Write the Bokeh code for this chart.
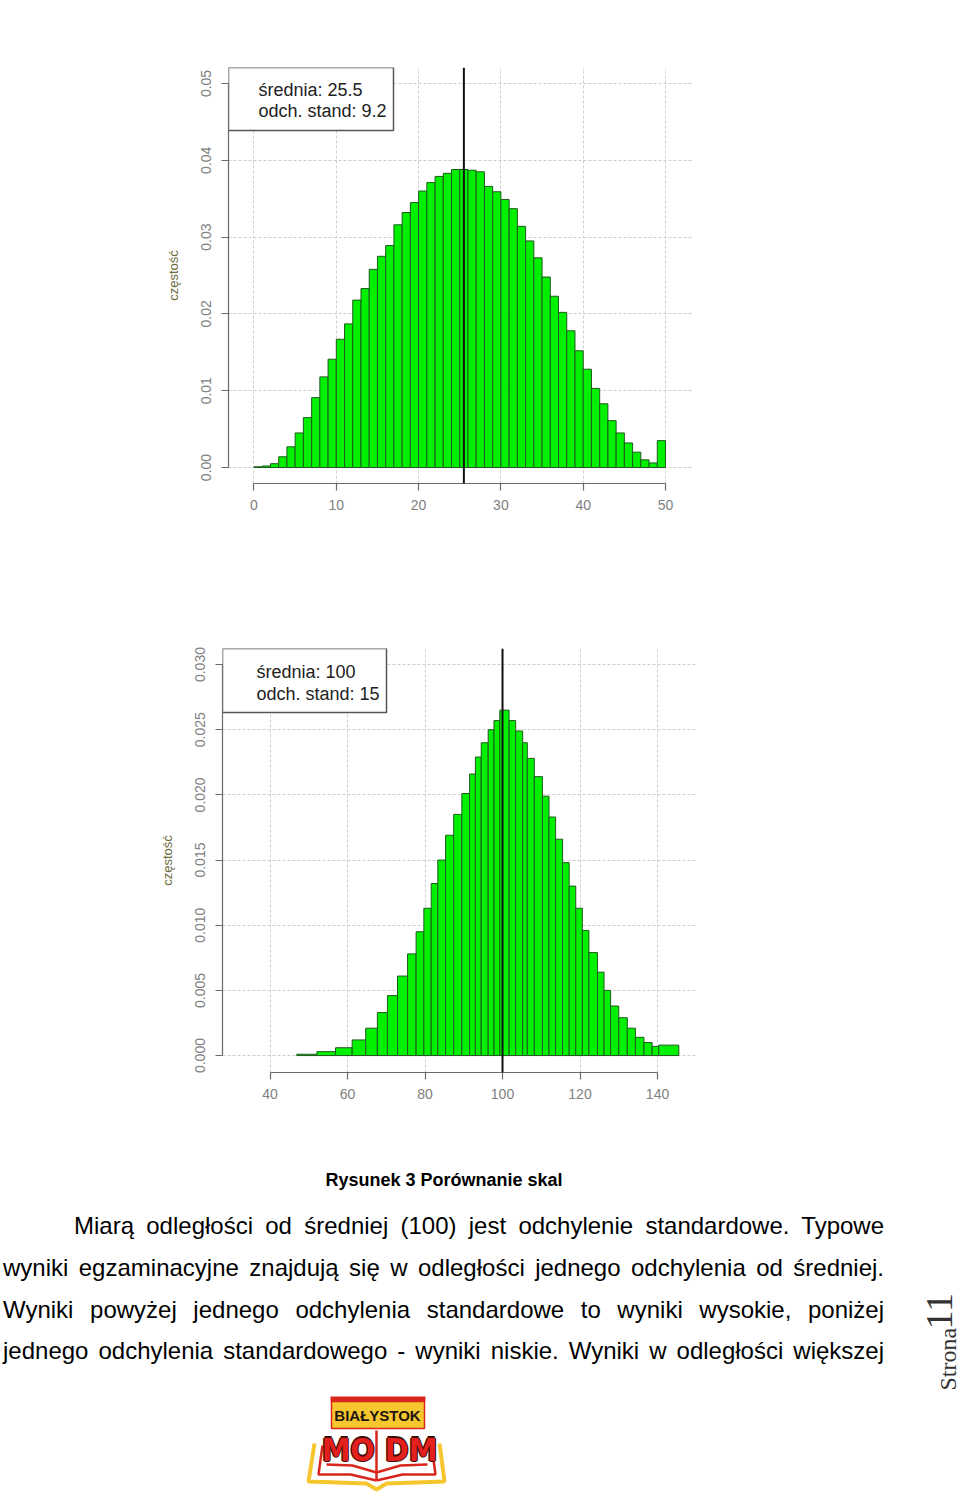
import math
from bokeh.plotting import figure
from bokeh.models import Range1d, FixedTicker, NumeralTickFormatter, Span, BoxAnnotation, Label, Div
from bokeh.layouts import column, row
from bokeh.embed import file_html
from bokeh.resources import INLINE
from bokeh.core.properties import value

# ---------------- data ----------------
title_lines = ["Egzamin gimnazjalny  2011", "wyniki części humanistycznej"]
y_label = "częstość"

# chart 1: raw scores (0-50 points)
raw_edges = [0, 1, 2, 3, 4, 5, 6, 7, 8, 9, 10, 11, 12, 13, 14, 15, 16, 17, 18, 19, 20,
             21, 22, 23, 24, 25, 26, 27, 28, 29, 30, 31, 32, 33, 34, 35, 36, 37, 38, 39, 40,
             41, 42, 43, 44, 45, 46, 47, 48, 49, 50]
raw_density = [0.0001, 0.0002, 0.0005, 0.0014, 0.0027, 0.0045, 0.0065, 0.0091, 0.0118, 0.0141,
               0.0167, 0.0187, 0.0218, 0.0233, 0.0258, 0.0275, 0.0289, 0.0316, 0.0332, 0.0345,
               0.0360, 0.0371, 0.0379, 0.0383, 0.0388, 0.0388, 0.0387, 0.0385, 0.0366, 0.0359,
               0.0349, 0.0337, 0.0314, 0.0295, 0.0273, 0.0248, 0.0223, 0.0202, 0.0178, 0.0152,
               0.0128, 0.0103, 0.0083, 0.0061, 0.0045, 0.0032, 0.0020, 0.0010, 0.0006, 0.0035]
raw_mean = 25.5
raw_x_ticks = [0, 10, 20, 30, 40, 50]
raw_y_ticks = [0.00, 0.01, 0.02, 0.03, 0.04, 0.05]
raw_legend = ["średnia: 25.5", "odch. stand: 9.2"]

# chart 2: standardised scale (mean 100, sd 15)
std_edges = [46.9, 52.1, 56.9, 61.2, 64.7, 67.7, 70.3, 72.9, 75.5, 77.7, 79.7, 81.6, 83.3,
             85.3, 87.4, 89.5, 91.5, 93.0, 94.5, 96.3, 97.8, 99.3, 101.7, 103.4, 105.2, 106.4,
             108.2, 110.3, 112.0, 113.7, 115.5, 117.2, 118.9, 120.6, 122.3, 124.5, 126.2,
             127.9, 130.0, 132.2, 134.3, 136.5, 138.6, 140.3, 145.5]
std_density = [0.0001, 0.0003, 0.0006, 0.0012, 0.0021, 0.0033, 0.0046, 0.0061, 0.0078, 0.0095,
               0.0113, 0.0132, 0.0150, 0.0169, 0.0185, 0.0201, 0.0216, 0.0229, 0.0240, 0.0250,
               0.0257, 0.0265, 0.0257, 0.0249, 0.0240, 0.0228, 0.0214, 0.0199, 0.0183, 0.0166,
               0.0148, 0.0130, 0.0113, 0.0096, 0.0079, 0.0064, 0.0050, 0.0038, 0.0029, 0.0021,
               0.0014, 0.0010, 0.0007, 0.0008]
std_mean = 100
std_x_ticks = [40, 60, 80, 100, 120, 140]
std_y_ticks = [0.000, 0.005, 0.010, 0.015, 0.020, 0.025, 0.030]
std_legend = ["średnia: 100", "odch. stand: 15"]

caption = "Rysunek 3 Porównanie skal"
paragraph_lines = [
    "Miarą odległości od średniej (100) jest odchylenie standardowe. Typowe",
    "wyniki egzaminacyjne znajdują się w odległości jednego odchylenia od średniej.",
    "Wyniki powyżej jednego odchylenia standardowe to wyniki wysokie, poniżej",
    "jednego odchylenia standardowego - wyniki niskie. Wyniki w odległości większej",
]
page_word = "Strona"
page_number = "11"
logo_top = "BIAŁYSTOK"
logo_main = "MO DM"

SANS = "Liberation Sans"


def no_align(p):
    try:
        p.frame_align = False
    except Exception:
        pass


def make_hist(H, frame, xr, yr, edges, dens, mean, xt, yt, yfmt, legend, title_y, title_x,
              legend_box, legend_text_x, legend_text_y):
    fl, fr, ft, fb = frame
    p = figure(width=960, height=H, x_range=Range1d(*xr), y_range=Range1d(*yr),
               output_backend="svg", toolbar_location=None,
               min_border_left=fl, min_border_right=960 - fr,
               min_border_top=ft, min_border_bottom=H - fb)
    no_align(p)
    p.outline_line_color = None
    p.background_fill_color = "white"
    p.border_fill_color = "white"

    def px2x(px):
        return xr[0] + (px - fl) / (fr - fl) * (xr[1] - xr[0])

    def px2y(py):
        return yr[1] - (py - ft) / (fb - ft) * (yr[1] - yr[0])

    for ax in (p.xaxis[0], p.yaxis[0]):
        ax.axis_line_color = "#6a6a6a"
        ax.axis_line_width = 1.2
        ax.major_tick_line_color = "#6a6a6a"
        ax.major_tick_line_width = 1.2
        ax.major_tick_out = 7
        ax.major_tick_in = 0
        ax.minor_tick_line_color = None
        ax.major_label_text_font = SANS
        ax.major_label_text_font_size = "14px"
        ax.major_label_text_color = "#808080"
    p.xaxis[0].ticker = FixedTicker(ticks=xt)
    p.xaxis[0].bounds = (xt[0], xt[-1])
    p.xaxis[0].formatter = NumeralTickFormatter(format="0")
    p.xaxis[0].major_label_standoff = 9
    p.yaxis[0].ticker = FixedTicker(ticks=yt)
    p.yaxis[0].bounds = (yt[0], yt[-1])
    p.yaxis[0].formatter = NumeralTickFormatter(format=yfmt)
    p.yaxis[0].major_label_orientation = "vertical"
    p.yaxis[0].major_label_standoff = 10
    p.yaxis[0].axis_label = y_label
    p.yaxis[0].axis_label_text_font = SANS
    p.yaxis[0].axis_label_text_font_size = "13px"
    p.yaxis[0].axis_label_text_font_style = "normal"
    p.yaxis[0].axis_label_text_color = "#6b6b40"
    p.yaxis[0].axis_label_standoff = 18

    for g in (p.xgrid[0], p.ygrid[0]):
        g.grid_line_color = "#cfcfcf"
        g.grid_line_dash = "3 2"
        g.grid_line_width = 1

    p.quad(left=edges[:-1], right=edges[1:], bottom=0, top=dens,
           fill_color="#00f000", line_color="#1e5a1e", line_width=1)

    p.add_layout(Span(location=mean, dimension="height", line_color="#111111", line_width=2))

    bl, br, bt, bb = legend_box
    p.add_layout(BoxAnnotation(left=px2x(bl), right=px2x(br), top=px2y(bt), bottom=px2y(bb),
                               fill_color="white", fill_alpha=1.0, line_color="#555555",
                               line_width=1.5, line_alpha=1.0))
    for txt, ty in zip(legend, legend_text_y):
        p.add_layout(Label(x=px2x(legend_text_x), y=px2y(ty), text=txt, text_align="left",
                           text_baseline="middle", text_font=SANS, text_font_size="18px",
                           text_color="#222222"))
    for txt, ty in zip(title_lines, title_y):
        p.add_layout(Label(x=px2x(title_x), y=px2y(ty), text=txt, text_align="center",
                           text_baseline="middle", text_font=SANS, text_font_size="16px",
                           text_font_style="bold", text_color="#333333"))
    return p


# chart 1 (page y 0..565)
p1 = make_hist(565, (228, 693, 67, 483), (-3.098, 53.40), (-0.00208, 0.05208),
               raw_edges, raw_density, raw_mean, raw_x_ticks, raw_y_ticks, "0.00", raw_legend,
               title_y=(26, 46), title_x=457, legend_box=(228, 393, 67, 130),
               legend_text_x=258, legend_text_y=(89, 110))

# chart 2 (page y 565..1165)
p2 = make_hist(600, (222, 695, 83, 507), (27.74, 149.8), (-0.0013, 0.03123),
               std_edges, std_density, std_mean, std_x_ticks, std_y_ticks, "0.000", std_legend,
               title_y=(42, 62), title_x=459, legend_box=(222, 386, 83, 147),
               legend_text_x=256, legend_text_y=(106, 128))

# text block (page y 1165..1395)
DIV_W = 895
line_tops = [47, 89, 131, 172]
line_lefts = [74, 3, 3, 3]
line_widths = [810, 881, 881, 881]
html = ['<div style="position:relative;width:%dpx;height:230px;' % DIV_W +
        'font-family:\'Liberation Sans\',Arial,sans-serif;color:#000;">']
html.append('<div style="position:absolute;left:0px;top:5px;width:888px;text-align:center;'
            'font-weight:bold;font-size:18px;line-height:20px;white-space:nowrap;">'
            + caption + '</div>')
for txt, t, l, w in zip(paragraph_lines, line_tops, line_lefts, line_widths):
    html.append('<div style="position:absolute;left:%dpx;top:%dpx;width:%dpx;font-size:24px;'
                'line-height:28px;text-align:justify;text-align-last:justify;">%s</div>'
                % (l, t, w, txt))
html.append('</div>')
div = Div(text="".join(html), width=DIV_W, height=230, margin=0)

SIDE_W = 960 - DIV_W
side = figure(width=SIDE_W, height=230, x_range=Range1d(0, SIDE_W), y_range=Range1d(0, 230),
              output_backend="svg", toolbar_location=None, min_border=0)
no_align(side)
side.axis.visible = False
side.grid.visible = False
side.outline_line_color = None
side.text(x=[947 - DIV_W], y=[5], text=[page_word], angle=math.pi / 2, text_align="left",
          text_baseline="middle", text_font=value("Liberation Serif"),
          text_font_size="24px", text_color="#333333")
side.text(x=[939 - DIV_W], y=[66], text=[page_number], angle=math.pi / 2, text_align="left",
          text_baseline="middle", text_font=value("Liberation Serif"),
          text_font_size="38px", text_color="#333333")

# logo (page y 1395..1493)
logo = figure(width=960, height=98, x_range=Range1d(0, 960), y_range=Range1d(0, 98),
              output_backend="svg", toolbar_location=None, min_border=0)
no_align(logo)
logo.axis.visible = False
logo.grid.visible = False
logo.outline_line_color = None


def ly(py):
    return 1493 - py


YEL = "#f5c62e"
RED = "#d9261c"
logo.quad(left=[330], right=[425], top=[ly(1396)], bottom=[ly(1401)], fill_color=RED,
          line_color=None)
logo.quad(left=[331], right=[424], top=[ly(1401)], bottom=[ly(1428)], fill_color=YEL,
          line_color=RED, line_width=1.5)
logo.text(x=[377], y=[ly(1415)], text=[logo_top], text_align="center", text_baseline="middle",
          text_font=value(SANS), text_font_style="bold", text_font_size="15px",
          text_color="#1e1410")
logo.multi_line(xs=[[314, 308, 366, 376, 386, 444, 439]],
                ys=[[ly(1443), ly(1481), ly(1483), ly(1489), ly(1483), ly(1481), ly(1443)]],
                line_color=YEL, line_width=4)
logo.multi_line(xs=[[322, 318, 350, 376], [431, 435, 402, 376], [326, 352, 376], [427, 400, 376],
                    [376, 376]],
                ys=[[ly(1445), ly(1474), ly(1474), ly(1480)], [ly(1445), ly(1474), ly(1474), ly(1480)],
                    [ly(1464), ly(1465), ly(1472)], [ly(1464), ly(1465), ly(1472)],
                    [ly(1430), ly(1480)]],
                line_color=RED, line_width=2.5)
LOGO_FONT = value("'Liberation Sans Narrow', 'DejaVu Sans Condensed', sans-serif")
for dx, dy in [(-1.2, 0), (1.2, 0), (0, -1.2), (0, 1.2)]:
    logo.text(x=[379 + dx], y=[ly(1449) + dy], text=[logo_main], text_align="center",
              text_baseline="middle", text_font=LOGO_FONT,
              text_font_style="bold", text_font_size="32px", text_color="#3a0c08")
logo.text(x=[379], y=[ly(1449)], text=[logo_main], text_align="center", text_baseline="middle",
          text_font=LOGO_FONT, text_font_style="bold", text_font_size="32px",
          text_color="#e3201b")

layout = column(p1, p2, row(div, side), logo)
open("out.html", "w").write(file_html(layout, INLINE))
